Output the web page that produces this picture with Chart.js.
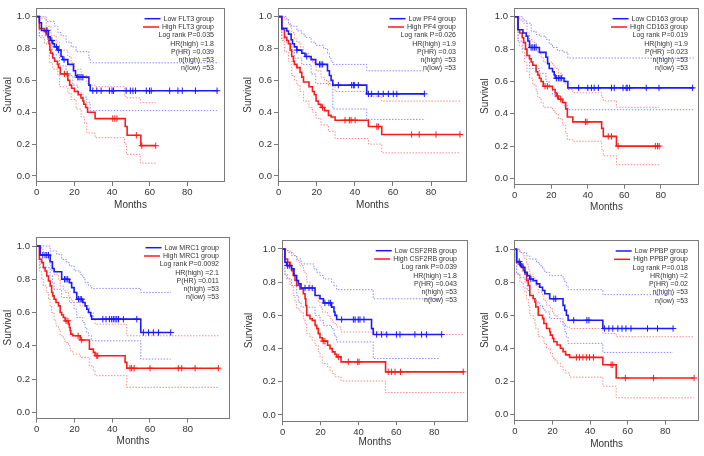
<!DOCTYPE html>
<html><head><meta charset="utf-8">
<script src="https://cdn.jsdelivr.net/npm/chart.js@4.4.1/dist/chart.umd.min.js"></script>
<style>
html,body{margin:0;padding:0;background:#fff;width:704px;height:456px;overflow:hidden;position:relative;}
canvas{position:absolute;}
</style></head><body>
<canvas id="c1"></canvas><canvas id="c2"></canvas><canvas id="c3"></canvas>
<canvas id="c4"></canvas><canvas id="c5"></canvas><canvas id="c6"></canvas>
<script>
// ---------- tick labels ----------
const monthTicks = [0, 20, 40, 60, 80];
const survivalTicks = [0, 0.2, 0.4, 0.6, 0.8, 1.0];

// ---------- FLT3 ----------
const FLT3_low = [[0,1],[1.4,0.962],[2.5,0.913],[6.2,0.873],[7.2,0.85],[8.5,0.83],[9.4,0.81],[11.2,0.79],[12.9,0.75],[13.8,0.73],[16.5,0.70],[19.5,0.66],[20.6,0.63],[21.3,0.62],[27.7,0.57],[28.4,0.535],[96.3,0.535]];
const FLT3_high = [[0,1],[1.4,0.925],[4,0.906],[5,0.887],[6,0.868],[6.5,0.83],[7,0.79],[7.5,0.77],[8.5,0.74],[9.5,0.72],[11,0.70],[11.5,0.68],[12.5,0.64],[16.5,0.60],[17.5,0.57],[18.5,0.55],[20,0.53],[22,0.51],[23.5,0.49],[24.5,0.47],[25,0.45],[26,0.43],[27,0.40],[31,0.36],[47,0.31],[48,0.255],[55.3,0.19],[63.2,0.19]];
const FLT3_lowCensor = [5,5.5,8,10.5,11.5,14.5,21.8,22.5,23.5,24.5,29.8,31.9,34.2,38.6,40,40.8,47.5,49.7,51.1,52.5,58.2,59.9,60.8,70.6,75,77.3,84.3,95.8];
const FLT3_highCensor = [14.7,16.2,40.4,41.5,42.6,52.9,55.8,63.2];
const FLT3_lowUpper = [[0,1],[5,0.97],[9.4,0.94],[11.2,0.90],[12.9,0.88],[15.6,0.84],[18.3,0.81],[20.9,0.78],[27.7,0.74],[28.4,0.71],[96.3,0.71]];
const FLT3_lowLower = [[0,1],[1.4,0.88],[5.9,0.84],[8.5,0.76],[12.1,0.69],[15.6,0.63],[19.2,0.57],[21.8,0.52],[24.5,0.495],[26.6,0.46],[28.4,0.41],[96.3,0.41]];
const FLT3_highUpper = [[0,1],[1.4,0.99],[5,0.94],[7.6,0.88],[10.3,0.84],[12.1,0.79],[16.5,0.75],[18.3,0.71],[20,0.67],[23.6,0.63],[26.6,0.59],[27.1,0.57],[31,0.56],[46.7,0.50],[47.7,0.49],[55,0.46],[63.2,0.46]];
const FLT3_highLower = [[0,1],[1.4,0.87],[4.1,0.83],[6.7,0.71],[8.5,0.67],[11.2,0.63],[12.1,0.56],[16.5,0.52],[18.3,0.48],[20.9,0.42],[23.6,0.37],[25.4,0.33],[26.6,0.27],[31,0.24],[46.7,0.20],[47.7,0.135],[55,0.08],[63.2,0.08]];
const FLT3_stats = ['Log rank P=0.035','HR(high) =1.8','P(HR) =0.039','n(high) =53','n(low) =53'];

// ---------- PF4 ----------
const PF4_low = [[0,1],[1.6,0.927],[4.2,0.91],[5.1,0.89],[6.5,0.855],[7.2,0.83],[8.2,0.81],[9.5,0.79],[12.1,0.77],[13.8,0.75],[17,0.73],[19.4,0.70],[25.6,0.66],[26.6,0.63],[27.5,0.60],[28.4,0.57],[46.2,0.515],[76.5,0.515]];
const PF4_high = [[0,1],[1.6,0.92],[3,0.87],[4.2,0.85],[5.1,0.83],[6,0.79],[6.8,0.75],[7.7,0.72],[8.2,0.70],[9.5,0.68],[11.2,0.65],[12.1,0.62],[13,0.59],[15.9,0.56],[17.7,0.53],[18.7,0.51],[19.6,0.47],[20.8,0.45],[22.2,0.43],[24,0.41],[26.1,0.38],[27.5,0.37],[29.6,0.35],[47.1,0.31],[54.1,0.26],[95.4,0.26]];
const PF4_lowCensor = [9.5,14.7,21.4,22.2,23.1,31.3,38.3,39.2,39.7,41.8,47.1,48.8,52.3,54.9,57.6,60.2,62,76.5];
const PF4_highCensor = [23,34.8,37.1,38,40.1,51.5,52.3,69.8,73.8,82.6,95.2];
const PF4_lowUpper = [[0,1],[4.2,0.98],[5.1,0.96],[6,0.94],[9.5,0.91],[12.1,0.89],[13.8,0.87],[17,0.84],[19.4,0.82],[23.5,0.80],[25.6,0.77],[26.6,0.74],[27.5,0.72],[28.4,0.70],[46.2,0.66],[76.5,0.66]];
const PF4_lowLower = [[0,1],[1.6,0.86],[4.2,0.83],[6.5,0.78],[8.2,0.74],[12.1,0.70],[17,0.64],[19.4,0.58],[28.4,0.42],[46.2,0.355],[76.5,0.355]];
const PF4_highUpper = [[0,1],[3,0.98],[5.1,0.95],[6.8,0.90],[8.2,0.86],[9.5,0.84],[11.2,0.81],[13,0.77],[15.9,0.74],[17.7,0.71],[19.6,0.66],[22.2,0.62],[24,0.60],[26.1,0.57],[29.6,0.53],[47.1,0.50],[54.1,0.47],[95.4,0.47]];
const PF4_highLower = [[0,1],[1.6,0.85],[3,0.78],[5.1,0.72],[6.8,0.63],[8.2,0.60],[9.5,0.57],[11.2,0.53],[13,0.47],[15.9,0.43],[17.7,0.40],[19.6,0.36],[22.2,0.32],[26.1,0.28],[29.6,0.235],[47.1,0.20],[54.1,0.145],[95.4,0.145]];
const PF4_stats = ['Log rank P=0.026','HR(high) =1.9','P(HR) =0.03','n(high) =53','n(low) =53'];

// ---------- CD163 ----------
const CD163_low = [[0,1],[1.8,0.92],[4.5,0.90],[6.3,0.88],[7.2,0.85],[8.1,0.81],[13.5,0.78],[17.1,0.75],[18,0.71],[18.9,0.68],[20.7,0.66],[21.6,0.64],[22.1,0.62],[27,0.60],[29.1,0.56],[98,0.56]];
const CD163_high = [[0,1],[1.8,0.92],[2.7,0.90],[4.1,0.87],[4.9,0.84],[5.9,0.80],[6.7,0.76],[8.1,0.74],[9,0.72],[9.9,0.70],[11.7,0.66],[12.6,0.64],[13.5,0.62],[14.4,0.60],[15.6,0.57],[20.7,0.55],[22.1,0.53],[22.8,0.51],[23.9,0.49],[26.1,0.47],[27.9,0.43],[28.8,0.38],[31.8,0.35],[47.6,0.31],[48.5,0.26],[55.7,0.20],[79.1,0.20]];
const CD163_lowCensor = [9,9.9,10.8,11.7,22.8,23.9,24.8,25.7,35,40,42,43.5,45.8,53,54.5,59.3,61,61.6,62.9,72,79,97.4];
const CD163_highCensor = [16.6,17.9,23.4,25.2,38.7,39.6,51.2,53,56.6,77,78.2,79.1];
const CD163_lowUpper = [[0,1],[4.5,0.98],[6.3,0.96],[9,0.91],[11.7,0.89],[13.5,0.88],[17.1,0.86],[18.9,0.83],[20.7,0.81],[23.4,0.79],[27,0.78],[29.1,0.745],[98,0.745]];
const CD163_lowLower = [[0,1],[1.8,0.85],[4.5,0.80],[6.3,0.75],[8.1,0.68],[13.5,0.65],[17.1,0.60],[18.9,0.56],[20.7,0.52],[22.5,0.50],[25.2,0.48],[27,0.45],[29.1,0.425],[98,0.425]];
const CD163_highUpper = [[0,1],[2.7,0.98],[4.5,0.96],[6.7,0.90],[8.1,0.86],[9.9,0.84],[11.7,0.80],[12.6,0.78],[14.4,0.75],[15.6,0.72],[20.7,0.70],[22.1,0.68],[23.9,0.65],[26.1,0.62],[27.9,0.58],[28.8,0.55],[31.8,0.53],[47.6,0.50],[48.5,0.48],[55.7,0.44],[79.1,0.44]];
const CD163_highLower = [[0,1],[1.8,0.85],[2.7,0.82],[4.1,0.78],[5.4,0.72],[6.7,0.66],[8.1,0.62],[9.9,0.58],[11.7,0.54],[12.6,0.50],[14.4,0.47],[15.6,0.44],[20.7,0.42],[22.1,0.40],[23.9,0.37],[26.1,0.33],[27.9,0.28],[28.8,0.24],[31.8,0.23],[47.6,0.18],[48.5,0.14],[55.7,0.085],[79.1,0.085]];
const CD163_stats = ['Log rank P=0.019','HR(high) =1.9','P(HR) =0.023','n(high) =53','n(low) =53'];

// ---------- MRC1 ----------
const MRC1_low = [[0,1],[1.8,0.945],[7.1,0.905],[8.3,0.865],[9.2,0.845],[13.2,0.80],[17.3,0.78],[18.5,0.75],[19.8,0.72],[21.2,0.68],[24.4,0.66],[25.6,0.64],[26.5,0.62],[27.4,0.60],[28.6,0.58],[29.1,0.56],[55.1,0.48],[71,0.48]];
const MRC1_high = [[0,1],[1.4,0.92],[2.6,0.90],[3.5,0.87],[4.4,0.85],[5.3,0.82],[6.2,0.79],[7.1,0.76],[7.9,0.72],[8.5,0.70],[9.2,0.68],[10.2,0.66],[11.5,0.64],[12.4,0.60],[13.2,0.585],[14.1,0.57],[15,0.55],[16.8,0.53],[17.3,0.51],[17.7,0.49],[18,0.47],[19.1,0.46],[23,0.435],[27.9,0.38],[30,0.36],[30.9,0.34],[46.8,0.30],[47.7,0.265],[96.2,0.265]];
const MRC1_lowCensor = [3.2,4.4,5.3,6.2,14.7,15.5,16.4,22.1,23,23.8,35,36.7,38.5,39.7,40.6,41.5,42.4,43.3,45.9,53,56.5,59.2,61.8,64.5,71];
const MRC1_highCensor = [15.5,16.5,21.9,23.8,31.8,32.3,49.4,50.3,51.6,60,75,76.8,83.9,96.2];
const MRC1_lowUpper = [[0,1],[7.1,0.97],[10.6,0.95],[13.2,0.92],[15.9,0.90],[17.3,0.88],[19.8,0.85],[23,0.83],[24.4,0.81],[25.6,0.78],[27.4,0.76],[29.1,0.745],[55.1,0.72],[71,0.72]];
const MRC1_lowLower = [[0,1],[1.8,0.87],[7.1,0.82],[8.3,0.78],[9.2,0.74],[13.2,0.69],[17.3,0.66],[19.8,0.62],[21.2,0.57],[24.4,0.54],[25.6,0.51],[26.5,0.48],[27.4,0.46],[29.1,0.43],[55.1,0.32],[71,0.32]];
const MRC1_highUpper = [[0,1],[2.6,0.98],[3.5,0.96],[5.3,0.93],[6.2,0.91],[7.1,0.88],[7.9,0.85],[9.2,0.83],[11.5,0.80],[12.4,0.76],[14.1,0.74],[15,0.72],[16.8,0.70],[17.7,0.68],[19.1,0.66],[23,0.64],[27.9,0.60],[30,0.56],[30.9,0.53],[47.7,0.46],[96.2,0.46]];
const MRC1_highLower = [[0,1],[1.4,0.85],[2.6,0.80],[3.5,0.76],[5.3,0.72],[6.2,0.68],[7.1,0.64],[7.9,0.60],[9.2,0.55],[10.2,0.52],[11.5,0.50],[12.4,0.46],[14.1,0.44],[15,0.42],[16.8,0.40],[17.7,0.37],[19.1,0.35],[23,0.33],[27.9,0.28],[30,0.25],[30.9,0.22],[47.7,0.15],[96.2,0.15]];
const MRC1_stats = ['Log rank P=0.0092','HR(high) =2.1','P(HR) =0.011','n(high) =53','n(low) =53'];

// ---------- CSF2RB ----------
const CSF2RB_low = [[0,1],[1.2,0.92],[2.1,0.90],[4.7,0.88],[6,0.84],[7.4,0.81],[8.3,0.79],[9.7,0.765],[17.1,0.72],[19.7,0.70],[21.5,0.675],[25.8,0.65],[27.1,0.62],[27.6,0.60],[28.5,0.575],[46.9,0.52],[47.8,0.485],[84.2,0.485]];
const CSF2RB_high = [[0,1],[1.2,0.94],[2.6,0.92],[3.9,0.90],[4.7,0.87],[5.6,0.84],[6.5,0.81],[7.4,0.78],[9.1,0.76],[10.9,0.73],[11.8,0.70],[12.2,0.66],[12.7,0.60],[14.4,0.58],[15.6,0.57],[17.1,0.54],[18,0.52],[18.8,0.49],[19.7,0.465],[20.9,0.445],[23.7,0.42],[25,0.40],[26.2,0.38],[27.6,0.365],[28.5,0.35],[30.8,0.32],[54.3,0.26],[95.8,0.26]];
const CSF2RB_lowCensor = [2.6,3.5,11.8,13.9,15.6,22.3,24.4,25.3,31.1,37.3,38.2,39.9,40.8,42.9,49.6,52.2,54.9,60.1,61.9,69.8,73.3,75.9,83.9];
const CSF2RB_highCensor = [21.4,22.3,29.4,34.6,39.6,40.3,55.7,57.5,59.3,62.2,95.3];
const CSF2RB_lowUpper = [[0,1],[1.2,0.99],[2.9,0.98],[4.7,0.96],[7.4,0.94],[9.7,0.91],[16.5,0.88],[18,0.86],[19.7,0.84],[21.5,0.82],[25.8,0.80],[27.1,0.78],[28.5,0.755],[47.8,0.70],[84.2,0.70]];
const CSF2RB_lowLower = [[0,1],[1.2,0.84],[2.1,0.82],[4.7,0.78],[7.4,0.72],[8.3,0.68],[9.7,0.65],[17.1,0.60],[19.7,0.57],[21.5,0.54],[25.8,0.52],[27.1,0.49],[27.6,0.47],[28.5,0.44],[47.8,0.34],[82.4,0.34]];
const CSF2RB_highUpper = [[0,1],[2.6,0.99],[3.9,0.98],[5.6,0.96],[7.4,0.93],[9.1,0.90],[10.9,0.87],[11.8,0.85],[12.7,0.80],[14.4,0.77],[15.6,0.75],[17.1,0.72],[18.8,0.68],[19.7,0.65],[20.9,0.62],[23.7,0.60],[25,0.58],[26.2,0.56],[27.6,0.55],[28.5,0.53],[30.8,0.50],[54.3,0.485],[95.8,0.485]];
const CSF2RB_highLower = [[0,1],[1.2,0.85],[2.6,0.82],[3.9,0.78],[5.6,0.72],[6.5,0.68],[7.4,0.64],[9.1,0.62],[10.9,0.58],[11.8,0.55],[12.7,0.49],[14.4,0.47],[15.6,0.45],[17.1,0.42],[18.8,0.38],[19.7,0.35],[20.9,0.31],[23.7,0.29],[25,0.27],[26.2,0.25],[27.6,0.23],[30.8,0.205],[54.3,0.135],[95.8,0.135]];
const CSF2RB_stats = ['Log rank P=0.039','HR(high) =1.8','P(HR) =0.043','n(high) =53','n(low) =53'];

// ---------- PPBP ----------
const PPBP_low = [[0,1],[0.9,0.925],[2.6,0.91],[3.5,0.89],[5.3,0.86],[6.5,0.84],[7.9,0.82],[9.7,0.81],[11.5,0.79],[13.2,0.77],[14.7,0.75],[15.9,0.73],[18.5,0.70],[25.6,0.66],[26.5,0.63],[27.4,0.60],[28.3,0.57],[46.8,0.52],[84.2,0.52]];
const PPBP_high = [[0,1],[0.9,0.92],[2.6,0.90],[4.4,0.87],[5.3,0.85],[6.2,0.81],[7.1,0.78],[7.9,0.72],[9.7,0.70],[10.6,0.68],[11.1,0.65],[12.4,0.60],[14.7,0.58],[15.4,0.55],[16.8,0.52],[18.5,0.50],[18.9,0.48],[20,0.46],[20.7,0.44],[22.4,0.42],[24.2,0.40],[25.6,0.38],[27,0.36],[29.1,0.345],[46.8,0.30],[53.9,0.22],[95.4,0.22]];
const PPBP_lowCensor = [2.3,3,8.5,20.7,21.7,31.3,38.3,39.4,47.7,50,52.1,54.8,57,59.1,61.8,70.6,75.9,84.2];
const PPBP_highCensor = [32.7,34.4,36.2,38,39.7,41.8,51.2,52.1,58.8,73.8,95.4];
const PPBP_lowUpper = [[0,1],[2.6,0.98],[6.2,0.96],[7.9,0.94],[11.5,0.92],[13.2,0.90],[14.7,0.88],[15.9,0.86],[18.5,0.84],[25.6,0.82],[26.5,0.80],[27.4,0.78],[28.3,0.755],[46.8,0.725],[84.2,0.725]];
const PPBP_lowLower = [[0,1],[0.9,0.85],[2.6,0.83],[5.3,0.80],[6.5,0.75],[7.9,0.72],[9.7,0.70],[11.5,0.68],[13.2,0.66],[14.7,0.64],[15.9,0.62],[18.5,0.58],[25.6,0.54],[26.5,0.50],[27.4,0.47],[28.3,0.43],[46.8,0.375],[84.2,0.375]];
const PPBP_highUpper = [[0,1],[2.6,0.98],[4.4,0.96],[5.3,0.94],[6.2,0.91],[7.1,0.88],[7.9,0.85],[9.7,0.83],[10.6,0.81],[11.1,0.78],[12.4,0.74],[14.7,0.72],[15.4,0.69],[16.8,0.66],[18.9,0.64],[20,0.62],[20.7,0.60],[22.4,0.58],[24.2,0.56],[25.6,0.55],[27,0.53],[29.1,0.52],[46.8,0.49],[53.9,0.47],[95.4,0.47]];
const PPBP_highLower = [[0,1],[0.9,0.85],[2.6,0.80],[4.4,0.77],[5.3,0.74],[6.2,0.70],[7.1,0.66],[7.9,0.60],[9.7,0.58],[10.6,0.55],[11.1,0.52],[12.4,0.47],[15.4,0.43],[16.8,0.40],[18.9,0.37],[20,0.35],[20.7,0.33],[22.4,0.31],[24.2,0.29],[25.6,0.27],[27,0.25],[29.1,0.225],[46.8,0.17],[53.9,0.10],[95.4,0.10]];
const PPBP_stats = ['Log rank P=0.018','HR(high) =2','P(HR) =0.02','n(high) =53','n(low) =53'];

// ---------- styling / layout ----------
const BLUE = '#1a1aff', RED = '#ff1a1a';
const BLUE_CI = '#8c8cff', RED_CI = '#ff8c8c';
const AXIS = '#7a7a7a', TEXT = '#333333';
const FONT = '"Liberation Sans", Arial, Helvetica, sans-serif';

const panels = [
  {id:'c1', gene:'FLT3', low:FLT3_low, high:FLT3_high, lowC:FLT3_lowCensor, highC:FLT3_highCensor, lu:FLT3_lowUpper, ll:FLT3_lowLower, hu:FLT3_highUpper, hl:FLT3_highLower, stats:FLT3_stats,
   left:0, top:0, w:235, h:215, yW:36, xH:33, pt:1, pr:10, xmax:100, yTitlePad:2.3, xTitlePad:3.3},
  {id:'c2', gene:'PF4', low:PF4_low, high:PF4_high, lowC:PF4_lowCensor, highC:PF4_highCensor, lu:PF4_lowUpper, ll:PF4_lowLower, hu:PF4_highUpper, hl:PF4_highLower, stats:PF4_stats,
   left:240, top:0, w:235, h:215, yW:38, xH:33, pt:1, pr:8, xmax:98.9, yTitlePad:2.3, xTitlePad:3.3},
  {id:'c3', gene:'CD163', low:CD163_low, high:CD163_high, lowC:CD163_lowCensor, highC:CD163_highCensor, lu:CD163_lowUpper, ll:CD163_lowLower, hu:CD163_highUpper, hl:CD163_highLower, stats:CD163_stats,
   left:476, top:0, w:228, h:215, yW:38, xH:30.4, pt:3.4, pr:2, xmax:100.9, yTitlePad:3, xTitlePad:1.7},
  {id:'c4', gene:'MRC1', low:MRC1_low, high:MRC1_high, lowC:MRC1_lowCensor, highC:MRC1_highCensor, lu:MRC1_lowUpper, ll:MRC1_lowLower, hu:MRC1_highUpper, hl:MRC1_highLower, stats:MRC1_stats,
   left:0, top:225, w:235, h:231, yW:36, xH:37.4, pt:11.7, pr:5, xmax:102.4, yTitlePad:2.3, xTitlePad:8.3},
  {id:'c5', gene:'CSF2RB', low:CSF2RB_low, high:CSF2RB_high, lowC:CSF2RB_lowCensor, highC:CSF2RB_highCensor, lu:CSF2RB_lowUpper, ll:CSF2RB_lowLower, hu:CSF2RB_highUpper, hl:CSF2RB_highLower, stats:CSF2RB_stats,
   left:240, top:225, w:235, h:231, yW:41.9, xH:34.7, pt:14.7, pr:7, xmax:97.8, yTitlePad:3, xTitlePad:7.7},
  {id:'c6', gene:'PPBP', low:PPBP_low, high:PPBP_high, lowC:PPBP_lowCensor, highC:PPBP_highCensor, lu:PPBP_lowUpper, ll:PPBP_lowLower, hu:PPBP_highUpper, hl:PPBP_highLower, stats:PPBP_stats,
   left:476, top:225, w:228, h:231, yW:38.2, xH:35.4, pt:15, pr:4, xmax:98, yTitlePad:3, xTitlePad:6}
];

function survAt(curve, t) {
  let s = curve[0][1];
  for (const [x, y] of curve) { if (x <= t) s = y; else break; }
  return s;
}
const toXY = arr => arr.map(([x, y]) => ({x, y}));
const censorXY = (curve, times) => times.map(t => ({x: t, y: survAt(curve, t)}));

const boxLegend = {
  id: 'boxLegend',
  afterDraw(chart, args, opts) {
    const {ctx, chartArea: ca} = chart;
    ctx.save();
    ctx.strokeStyle = AXIS; ctx.lineWidth = 1;
    ctx.strokeRect(Math.round(ca.left) + 0.5, Math.round(ca.top) + 0.5, Math.round(ca.right - ca.left) - 1, Math.round(ca.bottom - ca.top) - 1);
    const rx = ca.right - 11;
    let y = ca.top + 11;
    const step = 8.3;
    ctx.font = '7px ' + FONT;
    ctx.textAlign = 'right'; ctx.textBaseline = 'middle';
    const entries = [{t: 'Low ' + opts.gene + ' group', c: BLUE}, {t: 'High ' + opts.gene + ' group', c: RED}];
    for (const e of entries) {
      const w = ctx.measureText(e.t).width;
      const end = rx - w - 3;
      ctx.strokeStyle = e.c; ctx.lineWidth = 1.5;
      ctx.beginPath(); ctx.moveTo(end - 16, y); ctx.lineTo(end, y); ctx.stroke();
      ctx.fillStyle = TEXT; ctx.fillText(e.t, rx, y);
      y += step;
    }
    for (const s of opts.stats) { ctx.fillStyle = TEXT; ctx.fillText(s, rx, y); y += step; }
    ctx.restore();
  }
};

function build(p) {
  const cv = document.getElementById(p.id);
  cv.width = p.w; cv.height = p.h;
  cv.style.left = p.left + 'px'; cv.style.top = p.top + 'px';
  const ci = (arr, col) => ({data: toXY(arr), borderColor: col, borderWidth: 1, borderDash: [1.5, 1.5], stepped: true, pointRadius: 0, fill: false, order: 3});
  const main = (arr, col) => ({data: toXY(arr), borderColor: col, borderWidth: 1.6, stepped: true, pointRadius: 0, fill: false, order: 1});
  const cens = (curve, times, col) => ({type: 'scatter', data: censorXY(curve, times), showLine: false, pointStyle: 'cross', pointRadius: 3.2, borderColor: col, borderWidth: 1, backgroundColor: col, order: 0});
  new Chart(cv, {
    type: 'line',
    data: {datasets: [
      cens(p.low, p.lowC, BLUE), cens(p.high, p.highC, RED),
      main(p.low, BLUE), main(p.high, RED),
      ci(p.lu, BLUE_CI), ci(p.ll, BLUE_CI), ci(p.hu, RED_CI), ci(p.hl, RED_CI)
    ]},
    options: {
      responsive: false, animation: false, devicePixelRatio: 1,
      layout: {padding: {top: p.pt, right: p.pr, left: 0, bottom: 0}},
      plugins: {legend: {display: false}, tooltip: {enabled: false}, boxLegend: {gene: p.gene, stats: p.stats}},
      scales: {
        x: {
          type: 'linear', min: -0.4, max: p.xmax,
          afterFit(s) { s.height = p.xH; },
          afterBuildTicks(s) { s.ticks = monthTicks.map(v => ({value: v})); },
          grid: {display: true, drawOnChartArea: false, drawTicks: true, tickLength: 4, color: AXIS, tickColor: AXIS},
          border: {display: false},
          ticks: {color: TEXT, font: {family: FONT, size: 9.5}, padding: 1, maxRotation: 0, callback: v => String(v)},
          title: {display: true, text: 'Months', color: TEXT, font: {family: FONT, size: 10}, padding: {top: 0, bottom: p.xTitlePad}}
        },
        y: {
          type: 'linear', min: -0.038, max: 1.056,
          afterFit(s) { s.width = p.yW; },
          afterBuildTicks(s) { s.ticks = survivalTicks.map(v => ({value: v})); },
          grid: {display: true, drawOnChartArea: false, drawTicks: true, tickLength: 4, color: AXIS, tickColor: AXIS},
          border: {display: false},
          ticks: {color: TEXT, font: {family: FONT, size: 9.5}, padding: 2, callback: v => Number(v).toFixed(1)},
          title: {display: true, text: 'Survival', color: TEXT, font: {family: FONT, size: 10}, padding: {top: p.yTitlePad, bottom: 0}}
        }
      }
    },
    plugins: [boxLegend]
  });
}
panels.forEach(build);
</script>
</body></html>
